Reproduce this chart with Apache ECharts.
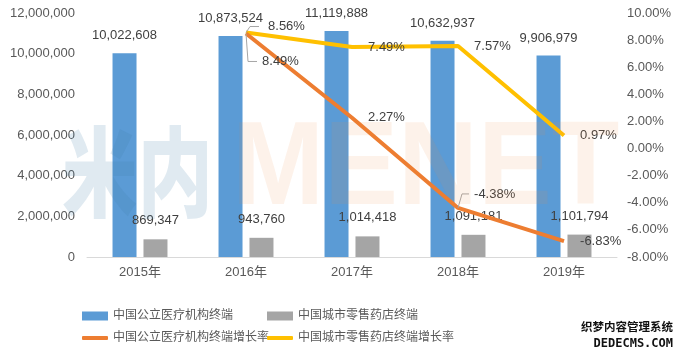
<!DOCTYPE html>
<html><head><meta charset="utf-8">
<script src="https://cdn.jsdelivr.net/npm/echarts@6/dist/echarts.min.js"></script>
<style>html,body{margin:0;padding:0;background:#fff}#c{width:678px;height:354px}</style>
</head><body><div id="c"></div>
<script>
const categories = ['2015年', '2016年', '2017年', '2018年', '2019年'];
const publicHospital = [10022608, 10873524, 11119888, 10632937, 9906979];
const retailPharmacy = [869347, 943760, 1014418, 1091181, 1101794];
const publicGrowth = [null, 8.49, 2.27, -4.38, -6.83];
const retailGrowth = [null, 8.56, 7.49, 7.57, 0.97];
const seriesNames = ['中国公立医疗机构终端', '中国城市零售药店终端', '中国公立医疗机构终端增长率', '中国城市零售药店终端增长率'];
const leftTicks = {min: 0, max: 12000000, interval: 2000000};
const rightTicks = {min: -8, max: 10, interval: 2};

// label offsets / leader-line shapes (style only): [dx, dy, elbowX, endX]
const publicLabelShift = [null, [0, 28, 2, 11], null, [0, -14, 4, 11], null];
const retailLabelShift = [null, [6, -6, 4, 13], null, null, null];

const FONT = '"Liberation Sans", "Noto Sans CJK SC", sans-serif';
const chart = echarts.init(document.getElementById('c'));
const fmtNum = v => Number(v).toLocaleString('en-US');
const fmtPct = v => Number(v).toFixed(2) + '%';

function layoutFn(shifts) {
  return function (p) {
    const s = shifts[p.dataIndex];
    if (!s) return {};
    return {dx: s[0], dy: s[1]};
  };
}
function leaderSeries(vals, shifts) {
  const data = [];
  vals.forEach((v, i) => { if (shifts[i] && v != null) data.push([i, v]); });
  return {
    type: 'custom', yAxisIndex: 1, z: 6, silent: true, data: data,
    encode: {x: 0, y: 1},
    renderItem: function (params, api) {
      const idx = api.value(0);
      const s = shifts[idx];
      const p = api.coord([idx, api.value(1)]);
      return {
        type: 'polyline',
        shape: {points: [[p[0], p[1]], [p[0] + s[2], p[1] + s[1]], [p[0] + s[3], p[1] + s[1]]]},
        style: {stroke: '#A6A6A6', lineWidth: 1, fill: null}
      };
    }
  };
}
function legendOf(name, left, top, isLine) {
  return {
    data: [name], left: left, top: top, orient: 'horizontal',
    icon: isLine ? 'roundRect' : 'rect',
    itemWidth: 26, itemHeight: isLine ? 4 : 9, itemGap: 5,
    textStyle: {fontSize: 12, color: '#595959', fontFamily: FONT}
  };
}

chart.setOption({
  animation: false,
  textStyle: {fontFamily: FONT},
  color: ['#5B9BD5', '#A5A5A5', '#ED7D31', '#FFC000'],
  grid: {left: 87, right: 61, top: 13, bottom: 97},
  legend: [
    legendOf(seriesNames[0], 77, 305, false),
    legendOf(seriesNames[1], 262, 305, false),
    legendOf(seriesNames[2], 77, 327, true),
    legendOf(seriesNames[3], 262, 327, true)
  ],
  xAxis: {
    type: 'category', data: categories,
    axisLine: {lineStyle: {color: '#D9D9D9', width: 1}},
    axisTick: {show: false},
    axisLabel: {color: '#595959', fontSize: 13, margin: 9}
  },
  yAxis: [
    {type: 'value', min: leftTicks.min, max: leftTicks.max, interval: leftTicks.interval,
     splitLine: {show: false}, axisLine: {show: false}, axisTick: {show: false},
     axisLabel: {color: '#595959', fontSize: 13, margin: 12, formatter: fmtNum}},
    {type: 'value', min: rightTicks.min, max: rightTicks.max, interval: rightTicks.interval,
     splitLine: {show: false}, axisLine: {show: false}, axisTick: {show: false},
     axisLabel: {color: '#595959', fontSize: 13, margin: 10, formatter: fmtPct}}
  ],
  graphic: [
    {type: 'text', x: 62, y: 171.5, z: 100, silent: true, scaleX: 0.77,
     style: {text: '米内', fontSize: 98, fontWeight: 900, fontFamily: '"Noto Sans CJK SC"',
             verticalAlign: 'middle', align: 'left', fill: 'rgba(63,127,168,0.16)'}},
    {type: 'text', x: 232, y: 171.5, z: 100, silent: true, scaleX: 0.93,
     style: {text: 'MENET', fontSize: 119, fontWeight: 'bold', fontFamily: '"Liberation Sans"',
             verticalAlign: 'middle', align: 'left', fill: 'rgba(240,140,60,0.11)'}},
    {type: 'text', right: 4, top: 320, z: 101, silent: true,
     style: {text: '织梦内容管理系统', fontSize: 11.5, fontWeight: 'bold', fontFamily: '"Noto Sans CJK SC"',
             fill: '#111', stroke: '#fff', lineWidth: 2}},
    {type: 'text', right: 4, top: 337, z: 101, silent: true,
     style: {text: 'DEDECMS.COM', fontSize: 12, fontWeight: 'bold', fontFamily: '"DejaVu Sans Mono"',
             fill: '#111', stroke: '#fff', lineWidth: 2}}
  ],
  series: [
    {name: seriesNames[0], type: 'bar', data: publicHospital, barWidth: 24, barGap: '29%',
     label: {show: true, position: 'top', distance: 11, color: '#404040', fontSize: 13, formatter: p => fmtNum(p.value)}},
    {name: seriesNames[1], type: 'bar', data: retailPharmacy, barWidth: 24, barGap: '29%',
     label: {show: true, position: 'top', distance: 12, color: '#404040', fontSize: 13, formatter: p => fmtNum(p.value)}},
    {name: seriesNames[2], type: 'line', yAxisIndex: 1, data: publicGrowth,
     symbol: 'circle', symbolSize: 0.1, lineStyle: {width: 4, color: '#ED7D31'}, itemStyle: {color: '#ED7D31'}, z: 5,
     label: {show: true, position: 'right', distance: 16, color: '#404040', fontSize: 13, formatter: p => fmtPct(p.value)},
     labelLayout: layoutFn(publicLabelShift)},
    {name: seriesNames[3], type: 'line', yAxisIndex: 1, data: retailGrowth,
     symbol: 'circle', symbolSize: 0.1, lineStyle: {width: 4, color: '#FFC000'}, itemStyle: {color: '#FFC000'}, z: 4,
     label: {show: true, position: 'right', distance: 16, color: '#404040', fontSize: 13, formatter: p => fmtPct(p.value)},
     labelLayout: layoutFn(retailLabelShift)},
    leaderSeries(publicGrowth, publicLabelShift),
    leaderSeries(retailGrowth, retailLabelShift)
  ]
});
</script></body></html>
